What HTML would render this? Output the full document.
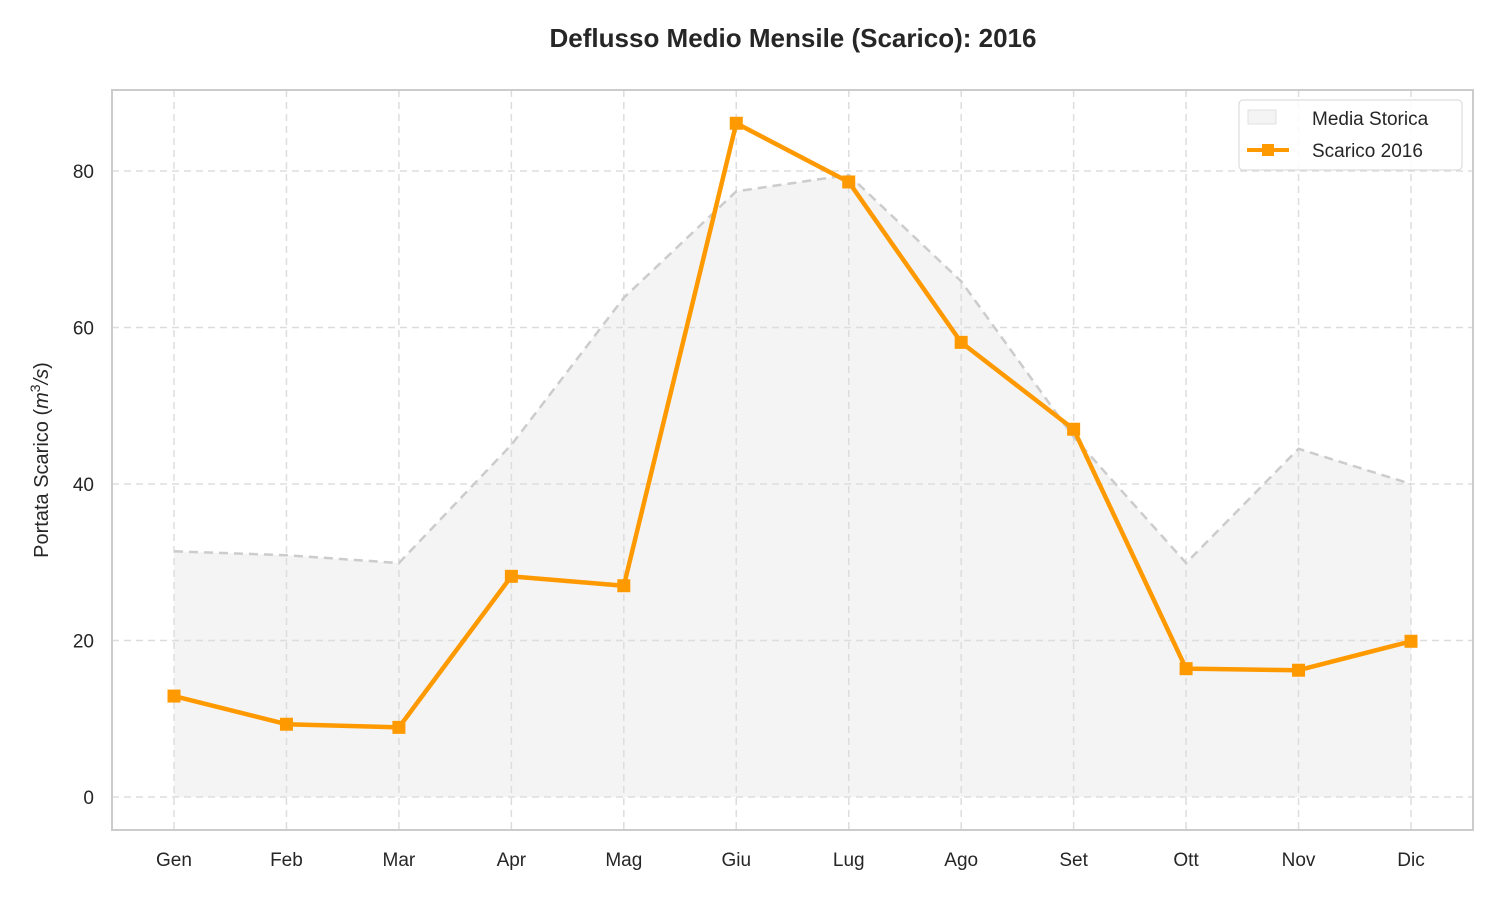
<!DOCTYPE html>
<html><head><meta charset="utf-8"><style>
body{margin:0;background:#fff;}
svg text{font-family:"Liberation Sans",Arial,sans-serif;fill:#262626;}
</style></head><body>
<svg id="chart" width="1500" height="900" xmlns="http://www.w3.org/2000/svg">
<text x="793" y="47" text-anchor="middle" font-size="26" font-weight="bold">Deflusso Medio Mensile (Scarico): 2016</text>
<g id="areaG"></g>
<g id="grid"></g>
<g id="plot"></g>
<rect x="112" y="90" width="1361" height="740" fill="none" stroke="#cccccc" stroke-width="2"/>
<g id="ticks"></g>
<text transform="translate(48,460) rotate(-90)" text-anchor="middle" font-size="20">Portata Scarico (<tspan font-style="italic">m</tspan><tspan font-size="14" dy="-8">3</tspan><tspan dy="8" font-style="italic">/s</tspan>)</text>
<g>
<rect x="1239" y="100" width="223" height="70" rx="4" fill="#fff" fill-opacity="0.85" stroke="#d6d6d6"/>
<rect x="1248" y="110" width="28" height="14" fill="#f4f4f4" stroke="#e0e0e0"/>
<text x="1312" y="125" font-size="19">Media Storica</text>
<line x1="1247" y1="150" x2="1289" y2="150" stroke="#ff9900" stroke-width="4"/>
<rect x="1262" y="144" width="12" height="12" fill="#ff9900"/>
<text x="1312" y="157" font-size="19">Scarico 2016</text>
</g>
</svg>
<script>
const months=["Gen","Feb","Mar","Apr","Mag","Giu","Lug","Ago","Set","Ott","Nov","Dic"];
const historic=[31.4,30.9,29.9,45.0,63.8,77.4,79.5,65.9,46.0,29.9,44.5,40.0];
const flow2016=[12.9,9.3,8.9,28.2,27.0,86.1,78.6,58.1,47.0,16.4,16.2,19.9];
const yTicks=[0,20,40,60,80];
const NS="http://www.w3.org/2000/svg";
const X=i=>174+i*(1411-174)/11;
const Y=v=>797-v*(797-171)/80;
function mk(tag,attrs,parent){const e=document.createElementNS(NS,tag);for(const k in attrs)e.setAttribute(k,attrs[k]);parent.appendChild(e);return e;}
const grid=document.getElementById('grid'),plot=document.getElementById('plot'),ticks=document.getElementById('ticks'),areaG=document.getElementById('areaG');
yTicks.forEach(t=>{
 const l=mk('line',{x1:112,x2:1473,y1:Y(t),y2:Y(t),stroke:'#dddddd','stroke-width':1.5,'stroke-dasharray':'7,5'},grid);
 
 
 const tx=mk('text',{x:94,y:Y(t)+7,'text-anchor':'end','font-size':19},ticks);tx.textContent=t;
 
 
});
months.forEach((m,i)=>{
 const l=mk('line',{x1:X(i),x2:X(i),y1:90,y2:830,stroke:'#dddddd','stroke-width':1.5,'stroke-dasharray':'7,5'},grid);
 
 
 const tx=mk('text',{x:X(i),y:866,'text-anchor':'middle','font-size':19},ticks);tx.textContent=m;
 
 
});
let pts=historic.map((v,i)=>X(i)+','+Y(v)).join(' ');
const area=mk('polygon',{points:X(0)+','+Y(0)+' '+pts+' '+X(11)+','+Y(0),fill:'#f4f4f4'},areaG);


const hl=mk('polyline',{points:pts,fill:'none',stroke:'#cccccc','stroke-width':2.5,'stroke-dasharray':'9,6'},plot);


const ol=mk('polyline',{points:flow2016.map((v,i)=>X(i)+','+Y(v)).join(' '),fill:'none',stroke:'#ff9900','stroke-width':4.5,'stroke-linejoin':'round'},plot);


flow2016.forEach((v,i)=>{
 const r=mk('rect',{x:X(i)-6.5,y:Y(v)-6.5,width:13,height:13,fill:'#ff9900'},plot);
 
 
});
</script>
</body></html>
